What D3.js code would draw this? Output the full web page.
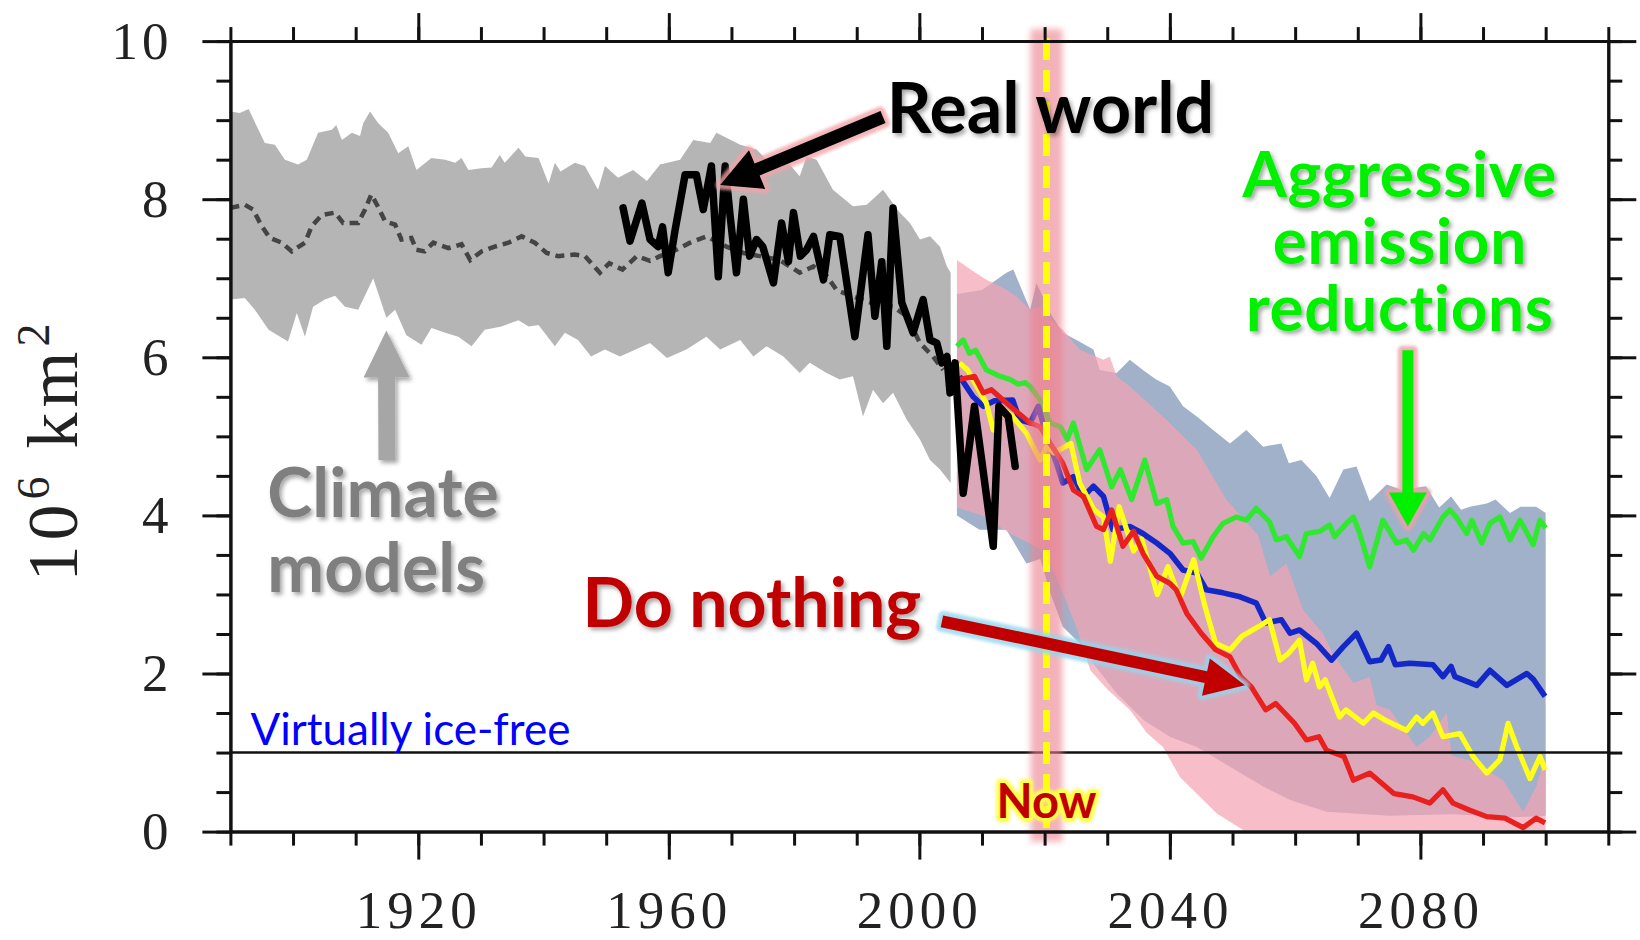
<!DOCTYPE html>
<html>
<head>
<meta charset="utf-8">
<script src="https://cdn.jsdelivr.net/npm/d3@7"></script>
<style>
  html, body { margin: 0; padding: 0; background: #fff; }
  svg { display: block; }
  .axis text { font-family: "Liberation Serif", serif; fill: #222; }
  .lbl { font-family: Lato, "Open Sans", sans-serif; font-weight: 700; }
</style>
</head>
<body>
<svg id="chart" width="1640" height="940"></svg>
<script>
'use strict';

// ---- data: [year, 10^6 km^2] ----
var grayUpper = [[1890,9.11],[1891.5,9.09],[1892.9,9.14],[1895.5,8.71],[1897.1,8.69],[1898.7,8.50],[1900.8,8.44],[1902.2,8.50],[1904,8.84],[1906.2,8.88],[1906.9,8.94],[1907.8,8.75],[1909.4,8.84],[1910.7,8.80],[1911.2,8.96],[1912.3,9.11],[1913.6,8.96],[1915.2,8.84],[1916.8,8.58],[1918.4,8.67],[1919.7,8.37],[1922.1,8.52],[1924.3,8.50],[1925.9,8.46],[1926.9,8.52],[1928,8.37],[1930.1,8.39],[1931.7,8.40],[1933,8.56],[1933.8,8.46],[1936,8.65],[1937.1,8.54],[1939.2,8.52],[1940.8,8.20],[1941.8,8.46],[1942.7,8.35],[1945,8.46],[1946.6,8.42],[1948.7,8.12],[1949.8,8.42],[1951.9,8.27],[1954.3,8.37],[1956.5,8.23],[1958.6,8.44],[1961.8,8.50],[1963.9,8.75],[1966.6,8.71],[1967.6,8.84],[1971.4,8.69],[1974,8.63],[1975.6,8.50],[1977.7,8.58],[1979.3,8.44],[1980.9,8.29],[1982,8.54],[1983.6,8.50],[1986.2,8.12],[1989.4,7.91],[1991.6,7.93],[1994.2,8.12],[1995.3,8.00],[1996.9,7.83],[1998.5,7.70],[2000.1,7.49],[2001.7,7.53],[2003.3,7.40],[2004.4,7.15],[2005,7.07]];
var grayLower = [[1890,6.73],[1892.3,6.75],[1893.9,6.60],[1896.1,6.35],[1899.2,6.20],[1900.6,6.56],[1901.9,6.26],[1903.2,6.64],[1905.1,6.73],[1906.7,6.78],[1908.3,6.64],[1910.4,6.60],[1912.8,7.00],[1914.9,6.50],[1916.3,6.60],[1918.1,6.28],[1920.5,6.16],[1922.1,6.37],[1924.3,6.31],[1926.4,6.26],[1928.5,6.14],[1930.6,6.35],[1933.3,6.39],[1936,6.47],[1937.6,6.39],[1939.2,6.41],[1941.8,6.14],[1943.4,6.31],[1945.5,6.22],[1947.6,6.01],[1949.8,6.10],[1952.2,6.01],[1957,6.18],[1959.7,5.99],[1962.8,6.10],[1966,6.26],[1968.2,6.10],[1971.4,6.22],[1973.5,6.01],[1975.6,6.14],[1978.3,6.01],[1980.9,5.80],[1982.5,5.93],[1985.2,5.80],[1987.3,5.72],[1989.4,5.76],[1991,5.25],[1992.6,5.59],[1994.2,5.42],[1995.8,5.55],[1998,5.21],[2000.1,4.96],[2001.7,4.70],[2003.3,4.58],[2005,4.41]];
var modelMean = [[1890,7.89],[1892.3,7.93],[1893.6,7.87],[1895,7.66],[1896.3,7.51],[1898.2,7.45],[1899.8,7.34],[1901.9,7.45],[1903,7.66],[1904.6,7.80],[1906.7,7.83],[1908,7.70],[1910.4,7.70],[1911.5,7.87],[1912.5,8.06],[1913.6,7.90],[1914.7,7.72],[1916.3,7.68],[1917.3,7.49],[1918.9,7.51],[1919.7,7.36],[1921,7.34],[1922.4,7.45],[1924.8,7.38],[1926.9,7.43],[1928.3,7.23],[1930.1,7.34],[1932.2,7.40],[1934.4,7.45],[1936.5,7.53],[1938.6,7.45],[1940.5,7.32],[1942.3,7.28],[1945,7.30],[1946.6,7.28],[1949,7.07],[1950.5,7.19],[1952.6,7.11],[1954.9,7.28],[1957,7.22],[1958.6,7.28],[1961.2,7.36],[1963.4,7.45],[1966,7.53],[1969.2,7.40],[1971.9,7.32],[1974.5,7.28],[1977.7,7.23],[1980.9,7.07],[1983.1,7.15],[1985.2,7.03],[1986.8,6.85],[1989.4,6.77],[1992.6,6.68],[1995.8,6.64],[1998,6.52],[2000.1,6.18],[2002.2,6.01],[2003.8,5.84]];
var realWorld = [[1952.7,7.89],[1953.8,7.47],[1955.7,7.95],[1957,7.49],[1958.3,7.40],[1959,7.65],[1959.9,7.07],[1961,7.61],[1962.6,8.31],[1964.4,8.31],[1965.5,7.87],[1966.8,8.42],[1967.9,7.02],[1969,8.42],[1969.8,7.78],[1970.8,7.07],[1971.9,8.00],[1972.9,7.28],[1974,7.49],[1975,7.40],[1976.7,6.94],[1978,7.70],[1979.1,7.21],[1979.9,7.83],[1981,7.28],[1982,7.36],[1983.1,7.53],[1984.7,6.98],[1985.7,7.55],[1987.3,7.53],[1989.7,6.26],[1991.8,7.55],[1992.9,6.52],[1994,7.21],[1994.8,6.14],[1995.8,7.89],[1997.2,6.69],[1999,6.31],[2000.6,6.73],[2001.7,6.22],[2002.8,6.18],[2003.6,5.93],[2004.4,6.01],[2004.9,5.55],[2005.7,5.93],[2007,4.28],[2008.8,5.38],[2011.8,3.61],[2012.7,5.38],[2014.2,5.25],[2015.3,4.62]];

var blueBandUpper = [[2006,6.8],[2010,6.85],[2013.9,7.07],[2015,7.11],[2017.7,6.60],[2018.7,6.94],[2020.9,6.56],[2022.9,6.31],[2025.1,6.22],[2027.8,6.10],[2028.8,5.84],[2031.5,5.80],[2033.6,5.97],[2035.7,5.84],[2037.8,5.72],[2040,5.63],[2042.1,5.38],[2044.3,5.25],[2046.9,5.08],[2049.6,4.91],[2052.2,5.08],[2054.9,4.87],[2057.8,4.91],[2059,4.66],[2061,4.70],[2063.4,4.50],[2065.5,4.22],[2067.7,4.58],[2069.8,4.62],[2071.9,4.18],[2074.6,4.39],[2077,4.32],[2080.9,4.37],[2083,4.10],[2084.9,4.24],[2086.5,4.07],[2087.9,4.11],[2090.6,4.15],[2092,4.20],[2094.3,4.03],[2096,4.11],[2098.5,4.11],[2100,4.03]];
var blueBandLower = [[2006,4.0],[2009.6,3.82],[2013.9,3.82],[2017.1,3.39],[2019.3,3.45],[2021,3.0],[2022.9,2.59],[2025.6,2.38],[2028,2.1],[2031.5,1.75],[2034,1.55],[2036,1.4],[2040,1.2],[2044.3,1.07],[2049.6,0.82],[2054.9,0.57],[2059.2,0.40],[2065,0.25],[2075,0.2],[2085,0.22],[2095,0.18],[2100,0.2]];
var pinkBandUpper = [[2006,7.23],[2008.6,7.09],[2010.7,6.98],[2013.4,6.88],[2015.5,6.77],[2017.7,6.60],[2019.3,6.64],[2020.3,6.52],[2022.9,6.35],[2025.6,6.10],[2029.4,5.97],[2030.4,6.01],[2031.5,5.76],[2033.6,5.63],[2038.9,5.25],[2044.3,4.83],[2049,4.2],[2054.1,3.75],[2056,3.23],[2058.6,3.39],[2061.3,2.80],[2064.5,2.5],[2066,2.25],[2069.3,1.88],[2071.9,1.96],[2073,1.6],[2075.1,1.54],[2079.4,1.07],[2081.5,1.2],[2084.2,1.5],[2085,0.96],[2088,0.9],[2093.2,0.65],[2096.4,0.25],[2098.5,0.57],[2100,0.96]];
var pinkBandLower = [[2006,4.1],[2010,4.0],[2015,3.75],[2020,3.55],[2023,3.0],[2025,2.6],[2027.3,2.04],[2030,1.8],[2033.6,1.54],[2036.3,1.25],[2038.9,1.07],[2041.6,0.69],[2044.3,0.48],[2047.5,0.23],[2051.7,0.02],[2100,0.02]];

var greenRun = [[2006,6.14],[2007,6.22],[2008,6.05],[2009,6.09],[2010.7,5.84],[2012.9,5.76],[2014.5,5.72],[2015.8,5.66],[2016.9,5.68],[2017.7,5.63],[2019.3,5.46],[2020.9,5.17],[2022.5,5.12],[2023.6,4.96],[2024.6,5.17],[2026.7,4.58],[2028.8,4.83],[2030.7,4.36],[2032.1,4.58],[2033.9,4.20],[2036,4.70],[2037.9,4.15],[2039.5,4.20],[2040.5,3.86],[2042.1,3.65],[2043.7,3.67],[2045,3.46],[2046.9,3.73],[2048.5,3.90],[2050.6,3.98],[2052.2,3.94],[2053.8,4.09],[2055.9,3.92],[2057,3.69],[2058.6,3.73],[2060.7,3.48],[2061.8,3.77],[2064,3.80],[2065.5,3.88],[2066.3,3.73],[2068.2,3.90],[2069.3,3.98],[2070.2,3.80],[2071.9,3.35],[2074,3.94],[2076.2,3.65],[2077.8,3.69],[2078.9,3.56],[2080.5,3.77],[2081.5,3.69],[2083.6,3.98],[2084.7,4.07],[2085.7,3.98],[2087.4,3.77],[2088.2,3.94],[2089.8,3.65],[2091.1,3.90],[2092.7,3.98],[2094.3,3.69],[2095.9,3.94],[2098,3.63],[2099.1,3.94],[2100,3.84]];
var blueRun = [[2006.4,5.76],[2008.6,5.50],[2010.2,5.38],[2012,5.45],[2014.9,5.46],[2016,5.21],[2017.7,5.17],[2019,5.38],[2020.3,5.00],[2021.9,4.66],[2022.9,4.41],[2024.6,4.49],[2026.2,4.24],[2027.8,4.37],[2029.4,4.24],[2030.9,3.82],[2033.6,3.86],[2035.7,3.77],[2037.9,3.65],[2040,3.52],[2042.1,3.31],[2044.3,3.27],[2045.8,3.06],[2048.5,3.02],[2051.2,2.97],[2053.8,2.89],[2055.3,2.64],[2057.8,2.68],[2059.2,2.51],[2060.7,2.55],[2063.4,2.38],[2065.8,2.17],[2067.7,2.34],[2069.8,2.51],[2071.9,2.15],[2073.7,2.17],[2074.9,2.34],[2076,2.11],[2078.3,2.13],[2082,2.11],[2083.6,1.96],[2084.9,2.09],[2085.5,1.96],[2089,1.85],[2091.1,2.04],[2093.8,1.85],[2097,2.0],[2098,1.93],[2099.9,1.71]];
var yellowRun = [[2006.4,5.93],[2007.7,5.84],[2010.7,5.42],[2011.8,5.08],[2013.4,5.34],[2014.9,5.25],[2017.1,5.04],[2019.3,4.70],[2020.3,4.87],[2021.5,4.79],[2024.2,4.91],[2025.6,4.41],[2027.9,4.07],[2029.4,3.98],[2030.5,3.42],[2031.9,4.11],[2034.2,3.55],[2035.5,3.70],[2038,3.0],[2039.7,3.35],[2041.6,2.95],[2043.8,3.44],[2045.6,2.85],[2047.3,2.38],[2049.6,2.30],[2051.5,2.47],[2054.1,2.59],[2055.9,2.68],[2057.6,2.17],[2059,2.26],[2060.7,2.42],[2061.8,1.92],[2062.8,2.13],[2063.9,1.83],[2064.8,1.92],[2067.1,1.45],[2068.1,1.54],[2070.9,1.37],[2072.5,1.50],[2074.6,1.40],[2077.8,1.28],[2079.4,1.45],[2080.4,1.37],[2082,1.50],[2083.6,1.20],[2086.3,1.24],[2088.4,0.95],[2090.6,0.74],[2092.7,0.91],[2094,1.37],[2095.4,1.07],[2097.5,0.67],[2099.1,0.95],[2099.9,0.78]];
var redRun = [[2006.4,5.72],[2008.8,5.76],[2010.2,5.55],[2011.5,5.59],[2014.5,5.38],[2017.7,5.17],[2019.3,5.12],[2020.9,4.91],[2022.9,4.66],[2024.6,4.32],[2026.2,4.24],[2028.3,3.86],[2029.4,3.82],[2030.7,4.07],[2032.5,3.61],[2034.2,3.80],[2035.7,3.52],[2037.9,3.23],[2040,3.14],[2041,3.06],[2042.7,2.76],[2045,2.51],[2047.3,2.30],[2049.6,2.21],[2051.3,1.96],[2053,1.83],[2055.3,1.54],[2056.9,1.62],[2059.9,1.37],[2061.8,1.16],[2063.8,1.20],[2065,1.03],[2067.8,0.95],[2069.3,0.65],[2071.9,0.74],[2075.8,0.48],[2078.8,0.44],[2081.5,0.36],[2083.6,0.53],[2085.2,0.36],[2087.9,0.27],[2090.6,0.19],[2093.5,0.17],[2096.4,0.05],[2098.5,0.17],[2099.9,0.11]];

var iceFreeLevel = 1;
var nowYear = 2020.3;
var decades = d3.range(1890, 2111, 10);
var yearLabels = [1920, 1960, 2000, 2040, 2080];
var halfSteps = d3.range(0, 10.01, 0.5);
var valueLabels = [0, 2, 4, 6, 8, 10];

// ---- layout ----
var width = 1640, height = 940;
var margin = {top: 41.1, right: 31.7, bottom: 108.4, left: 230.4};

var x = d3.scaleLinear().domain([1890, 2110]).range([margin.left, width - margin.right]);
var y = d3.scaleLinear().domain([0, 10]).range([height - margin.bottom, margin.top]);

var svg = d3.select('#chart');
var defs = svg.append('defs');

var sh = defs.append('filter').attr('id', 'shadow').attr('x', '-10%').attr('y', '-20%').attr('width', '130%').attr('height', '150%');
sh.append('feDropShadow').attr('dx', 2.5).attr('dy', 3).attr('stdDeviation', 2).attr('flood-color', '#000').attr('flood-opacity', 0.35);
var bl = defs.append('filter').attr('id', 'blur').attr('x', '-50%').attr('y', '-10%').attr('width', '200%').attr('height', '120%');
bl.append('feGaussianBlur').attr('stdDeviation', 3);
var bl2 = defs.append('filter').attr('id', 'soft').attr('x', '-20%').attr('y', '-20%').attr('width', '140%').attr('height', '140%');
bl2.append('feGaussianBlur').attr('stdDeviation', 1.6);

var line = d3.line().x(function(d) { return x(d[0]); }).y(function(d) { return y(d[1]); });
function band(upper, lower) {
  return line(upper.concat(lower.slice().reverse())) + 'Z';
}

// bands
svg.append('path').attr('d', band(grayUpper, grayLower)).attr('fill', '#b5b5b5');
svg.append('path').attr('d', line(modelMean)).attr('fill', 'none')
  .attr('stroke', '#444').attr('stroke-width', 4.5).attr('stroke-dasharray', '9,6');
svg.append('path').attr('d', band(blueBandUpper, blueBandLower)).attr('fill', '#a0b1c9');
svg.append('path').attr('d', band(pinkBandUpper, pinkBandLower)).attr('fill', '#f4a3b4').attr('opacity', 0.72);

// scenario runs
var runs = [
  {data: greenRun, color: '#2fe82f', w: 5.2},
  {data: blueRun, color: '#1428c8', w: 5.6},
  {data: yellowRun, color: '#ffff1a', w: 5.2},
  {data: redRun, color: '#e8201e', w: 5.2}
];
runs.forEach(function(r) {
  svg.append('path').attr('d', line(r.data)).attr('fill', 'none')
    .attr('stroke', r.color).attr('stroke-width', r.w).attr('stroke-linejoin', 'round');
});

svg.append('path').attr('d', line(realWorld)).attr('fill', 'none')
  .attr('stroke', '#000').attr('stroke-width', 7.5).attr('stroke-linejoin', 'round').attr('stroke-linecap', 'round');

// ice-free threshold
svg.append('line').attr('x1', x(1890)).attr('x2', x(2110)).attr('y1', y(iceFreeLevel)).attr('y2', y(iceFreeLevel))
  .attr('stroke', '#111').attr('stroke-width', 2.5);

// now marker
svg.append('rect').attr('x', x(nowYear) - 16).attr('width', 32)
  .attr('y', y(10) - 12).attr('height', y(0) - y(10) + 22)
  .attr('fill', '#ec7f8c').attr('opacity', 0.6).attr('filter', 'url(#blur)');
svg.append('line').attr('x1', x(nowYear)).attr('x2', x(nowYear)).attr('y1', y(10) - 3).attr('y2', y(0))
  .attr('stroke', '#ffff00').attr('stroke-width', 7).attr('stroke-dasharray', '22,10');

// ---- axes ----
function styleAxis(g) {
  g.select('.domain').attr('stroke', '#111').attr('stroke-width', 3);
  g.selectAll('.tick line').attr('stroke', '#111').attr('stroke-width', 3);
}
function addAxis(axis, tx, ty) {
  return svg.append('g').attr('class', 'axis').attr('transform', 'translate(' + tx + ',' + ty + ')').call(axis).call(styleAxis);
}
addAxis(d3.axisBottom(x).tickValues(decades).tickSize(14).tickSizeOuter(0).tickFormat(''), 0, y(0));
var xb = addAxis(d3.axisBottom(x).tickValues(yearLabels).tickSize(28).tickSizeOuter(0).tickPadding(31).tickFormat(d3.format('d')), 0, y(0));
addAxis(d3.axisTop(x).tickValues(decades).tickSize(14).tickSizeOuter(0).tickFormat(''), 0, y(10));
addAxis(d3.axisTop(x).tickValues(yearLabels).tickSize(28).tickSizeOuter(0).tickFormat(''), 0, y(10));
addAxis(d3.axisLeft(y).tickValues(halfSteps).tickSize(14).tickSizeOuter(0).tickFormat(''), x(1890), 0);
var yl = addAxis(d3.axisLeft(y).tickValues(valueLabels).tickSize(28).tickSizeOuter(0).tickPadding(30).tickFormat(d3.format('d')), x(1890), 0);
addAxis(d3.axisRight(y).tickValues(halfSteps).tickSize(14).tickSizeOuter(0).tickFormat(''), x(2110), 0);
addAxis(d3.axisRight(y).tickValues(valueLabels).tickSize(28).tickSizeOuter(0).tickFormat(''), x(2110), 0);

xb.selectAll('text').style('font-size', '53px').style('letter-spacing', '5px');
yl.selectAll('text').style('font-size', '53px').style('letter-spacing', '4px');

var yTitle = svg.append('text')
  .attr('transform', 'translate(77,450) rotate(-90)')
  .attr('text-anchor', 'middle')
  .style('font-family', '"Liberation Serif", serif').style('font-size', '72px')
  .style('letter-spacing', '5px').style('fill', '#222');
yTitle.append('tspan').text('10');
yTitle.append('tspan').attr('dy', -28).style('font-size', '46px').text('6');
yTitle.append('tspan').attr('dy', 28).text('\u00a0km');
yTitle.append('tspan').attr('dy', -28).style('font-size', '46px').text('2');

// ---- annotations ----
function arrowPts(t0, t1, sw, hl, hw) {
  var dx = t1[0] - t0[0], dy = t1[1] - t0[1], L = Math.hypot(dx, dy);
  var ux = dx / L, uy = dy / L, nx = -uy, ny = ux;
  var bx = t1[0] - ux * hl, by = t1[1] - uy * hl;
  return [[t0[0] + nx * sw, t0[1] + ny * sw], [bx + nx * sw, by + ny * sw], [bx + nx * hw, by + ny * hw], t1,
          [bx - nx * hw, by - ny * hw], [bx - nx * sw, by - ny * sw], [t0[0] - nx * sw, t0[1] - ny * sw]];
}
function arrow(from, to, sw, hl, hw, color, glow) {
  var p = arrowPts([x(from[0]), y(from[1])], [x(to[0]), y(to[1])], sw, hl, hw);
  var d = 'M' + p.map(function(q) { return q.join(','); }).join('L') + 'Z';
  if (glow) {
    svg.append('path').attr('d', d).attr('fill', glow).attr('stroke', glow).attr('stroke-width', 9)
      .attr('stroke-linejoin', 'round').attr('opacity', 0.8).attr('filter', 'url(#soft)');
    svg.append('path').attr('d', d).attr('fill', color);
  } else {
    svg.append('path').attr('d', d).attr('fill', color).attr('filter', 'url(#shadow)');
  }
}
function label(txt, at, size, color, anchor, weight) {
  return svg.append('text').attr('class', 'lbl')
    .attr('x', x(at[0])).attr('y', y(at[1]))
    .attr('text-anchor', anchor || 'start')
    .style('font-size', size + 'px').style('font-weight', weight || 700)
    .style('fill', color).text(txt);
}

arrow([1994.2, 9.04], [1968.2, 8.18], 6.5, 40, 21, '#000', '#f3a3a8');
label('Real world', [1994.8, 8.84], 70, '#000').attr('filter', 'url(#shadow)');

arrow([2078.0, 6.09], [2078.0, 3.86], 5.5, 34, 19, '#00f000', '#f0a0a8');
var aggr = label('', [2076.7, 8.03], 64, '#00f000', 'middle')
  .style('letter-spacing', '0.6px').attr('filter', 'url(#shadow)');
['Aggressive', 'emission', 'reductions'].forEach(function(t, i) {
  aggr.append('tspan').attr('x', x(2076.7)).attr('dy', i === 0 ? 0 : 67).text(t);
});

arrow([1915.0, 4.70], [1914.9, 6.34], 8.5, 47, 23, '#a6a6a6', null);
var clim = label('', [1895.9, 3.98], 68, '#7f7f7f').attr('filter', 'url(#shadow)');
['Climate', 'models'].forEach(function(t, i) {
  clim.append('tspan').attr('x', x(1895.9)).attr('dy', i === 0 ? 0 : 75).text(t);
});

arrow([2003.6, 2.66], [2052.0, 1.85], 6, 40, 19, '#c00000', '#92d6ef');
label('Do nothing', [1946.2, 2.59], 68, '#c00000').attr('filter', 'url(#shadow)');

label('Virtually ice-free', [1893.2, 1.10], 44, '#0000ff', 'start', 400);

label('Now', [nowYear, 0.17], 47, 'none', 'middle')
  .style('stroke', '#ffff44').style('stroke-width', 8).style('stroke-linejoin', 'round').attr('filter', 'url(#soft)');
label('Now', [nowYear, 0.17], 47, '#c00000', 'middle');
</script>
</body>
</html>
